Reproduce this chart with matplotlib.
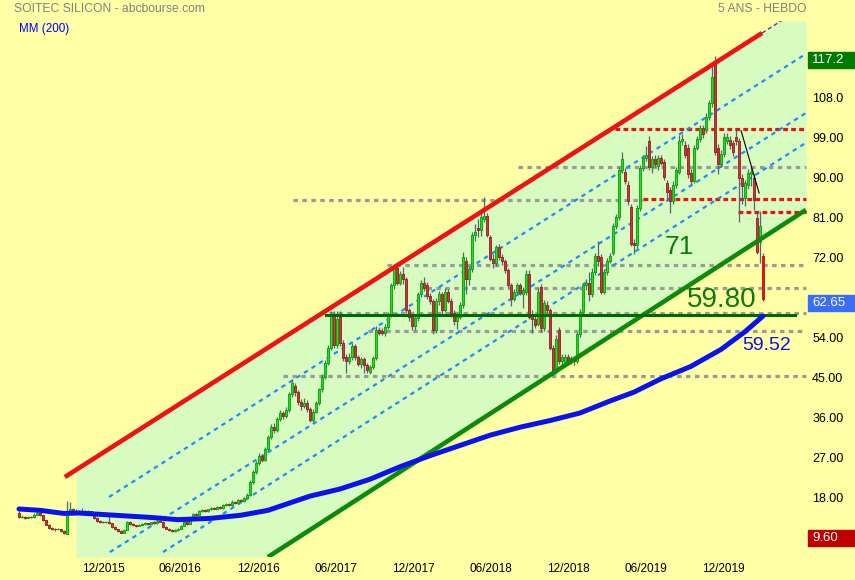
import numpy as np
import matplotlib
matplotlib.use("Agg")
import matplotlib.pyplot as plt
import matplotlib.transforms as mtransforms
from matplotlib.patches import Rectangle

plt.rcParams['font.family'] = ['Liberation Sans', 'DejaVu Sans']

# --- weekly candles (index 0 = mid 2015, last = mid March 2020) ---
opens = [
    14.4, 13.4, 13.6, 13.3, 13.5, 13.4, 14.0, 14.4, 13.9, 12.8,
    11.8, 11.0, 10.8, 10.7, 10.8, 10.4, 9.7, 14.4, 15.2, 14.6,
    14.9, 14.7, 14.9, 14.6, 14.8, 14.5, 13.3, 12.6, 12.4, 12.3,
    12.4, 12.1, 11.2, 10.8, 10.4, 10.0, 10.6, 12.4, 12.0, 11.7,
    11.5, 11.8, 11.9, 12.1, 11.9, 12.3, 12.1, 12.7, 12.4, 11.3,
    10.9, 10.6, 10.3, 10.5, 10.9, 11.5, 12.3, 12.0, 13.4, 14.2,
    14.0, 14.8, 15.1, 14.8, 15.2, 15.5, 15.4, 15.8, 15.6, 16.1,
    16.5, 16.2, 16.9, 16.6, 17.3, 17.0, 17.7, 18.5, 21.3, 23.6,
    25.6, 27.2, 26.3, 28.8, 31.5, 33.8, 33.0, 35.6, 37.0, 36.2,
    37.6, 41.2, 43.0, 41.6, 39.4, 38.4, 39.2, 37.8, 35.4, 37.2,
    39.2, 42.2, 45.0, 48.2, 51.6, 59.0, 52.2, 58.5, 52.6, 49.6,
    48.6, 49.6, 52.0, 49.4, 48.0, 49.0, 47.6, 46.2, 47.2, 49.2,
    55.6, 55.4, 55.0, 56.2, 59.0, 65.6, 69.6, 66.2, 68.2, 67.0,
    60.0, 58.4, 56.4, 58.2, 63.6, 66.2, 65.8, 63.2, 62.0, 55.6,
    62.0, 63.6, 60.0, 64.2, 62.2, 59.4, 57.6, 58.6, 61.2, 71.0,
    67.0, 69.2, 77.0, 78.6, 78.0, 80.6, 81.2, 76.4, 71.6, 70.6,
    74.2, 72.0, 71.0, 69.0, 65.6, 62.6, 64.2, 65.6, 63.6, 64.2,
    68.2, 59.2, 58.0, 57.0, 65.2, 56.0, 61.2, 60.0, 51.6, 46.2,
    55.6, 48.6, 48.2, 49.6, 48.6, 49.2, 48.6, 54.6, 59.6, 65.6,
    66.2, 63.6, 68.6, 72.2, 72.0, 64.2, 68.6, 71.2, 73.0, 79.0,
    81.0, 91.6, 91.2, 88.2, 83.2, 75.2, 74.6, 83.0, 92.0, 94.2,
    98.2, 92.2, 94.0, 92.4, 94.2, 93.4, 88.6, 87.0, 84.6, 88.2,
    91.2, 98.0, 97.2, 96.6, 91.0, 89.2, 96.6, 98.6, 101.0, 100.6,
    103.6, 106.6, 116.0, 96.6, 93.0, 95.2, 98.2, 98.4, 97.6, 99.0,
    98.0, 89.8, 85.2, 88.2, 90.6, 89.8, 80.8, 75.4, 72.2,
]
closes = [
    13.4, 13.6, 13.3, 13.5, 13.4, 14.0, 14.4, 13.9, 12.8, 11.8,
    11.0, 10.8, 10.7, 10.8, 10.4, 9.8, 14.4, 15.2, 14.6, 14.9,
    14.7, 14.9, 14.6, 14.8, 14.5, 13.3, 12.6, 12.4, 12.3, 12.4,
    12.1, 11.2, 10.8, 10.4, 10.0, 10.6, 12.4, 12.0, 11.7, 11.5,
    11.8, 11.9, 12.1, 11.9, 12.3, 12.1, 12.7, 12.4, 11.3, 10.9,
    10.6, 10.3, 10.5, 10.9, 11.5, 12.3, 12.0, 13.4, 14.2, 14.0,
    14.8, 15.1, 14.8, 15.2, 15.5, 15.4, 15.8, 15.6, 16.1, 16.5,
    16.2, 16.9, 16.6, 17.3, 17.0, 17.7, 18.5, 21.3, 23.6, 25.6,
    27.2, 26.3, 28.8, 31.5, 33.8, 33.0, 35.6, 37.0, 36.2, 37.6,
    41.2, 43.6, 41.6, 39.4, 38.4, 39.2, 37.8, 35.4, 37.2, 39.2,
    42.2, 45.0, 48.2, 51.6, 59.0, 52.2, 58.0, 52.6, 49.2, 48.6,
    49.6, 52.0, 49.6, 48.0, 49.0, 47.6, 46.6, 47.2, 49.2, 55.6,
    55.0, 55.0, 56.2, 59.0, 65.6, 69.6, 66.2, 68.2, 67.0, 60.0,
    58.4, 56.4, 58.2, 63.6, 66.2, 65.0, 63.2, 62.0, 55.6, 62.0,
    63.6, 60.0, 64.2, 62.2, 59.4, 57.6, 58.6, 61.2, 72.0, 67.0,
    69.2, 77.0, 77.6, 78.0, 81.0, 81.2, 77.0, 71.6, 70.6, 74.2,
    72.0, 71.0, 69.0, 65.6, 62.6, 64.2, 65.6, 64.0, 64.6, 68.2,
    58.6, 58.0, 56.6, 64.2, 56.0, 61.6, 60.0, 51.6, 46.2, 53.6,
    48.6, 49.6, 49.6, 48.6, 49.2, 48.6, 54.6, 59.6, 65.6, 66.2,
    63.6, 68.6, 72.2, 71.0, 64.2, 68.6, 71.2, 72.2, 79.0, 81.0,
    91.6, 94.0, 89.0, 84.6, 75.0, 74.6, 83.0, 92.0, 94.2, 95.0,
    92.2, 94.0, 93.0, 94.2, 93.2, 90.0, 86.6, 84.6, 88.2, 91.6,
    98.2, 98.6, 95.0, 90.6, 89.2, 96.6, 98.6, 101.0, 99.6, 103.6,
    106.6, 112.6, 95.6, 93.0, 95.2, 99.0, 99.0, 97.2, 95.6, 98.0,
    89.8, 88.0, 88.6, 91.0, 91.2, 84.8, 73.2, 79.0, 62.65,
]
highs = [
    14.8, 13.9, 13.8, 13.8, 13.7, 14.3, 14.8, 14.6, 14.0, 12.9,
    11.9, 11.2, 11.0, 11.0, 10.9, 10.5, 17.0, 16.8, 15.6, 15.2,
    15.0, 15.5, 15.0, 15.0, 14.9, 14.6, 13.5, 12.8, 12.6, 12.6,
    13.8, 12.2, 11.4, 10.9, 10.6, 10.8, 12.7, 12.6, 12.1, 11.8,
    11.9, 12.1, 12.3, 12.2, 12.4, 12.5, 13.4, 12.9, 12.5, 11.4,
    11.1, 10.7, 10.7, 11.1, 11.7, 12.5, 12.5, 13.6, 14.4, 14.5,
    15.0, 15.3, 15.3, 15.4, 15.8, 15.7, 16.0, 16.0, 16.4, 16.7,
    16.7, 17.3, 17.1, 17.5, 17.6, 17.9, 18.8, 21.8, 24.0, 26.0,
    27.8, 27.6, 29.2, 31.9, 34.4, 34.6, 36.0, 37.6, 37.4, 38.2,
    41.6, 44.6, 43.6, 42.0, 40.0, 40.2, 39.8, 38.2, 37.8, 39.6,
    42.6, 45.6, 48.8, 52.2, 59.8, 59.8, 59.8, 59.8, 53.4, 50.2,
    50.4, 52.6, 52.4, 50.0, 49.6, 49.6, 48.2, 47.8, 49.8, 56.4,
    56.2, 56.0, 57.0, 59.6, 66.2, 70.4, 70.2, 68.8, 69.8, 67.6,
    60.6, 59.0, 58.8, 64.2, 66.8, 67.6, 66.4, 63.8, 62.6, 62.8,
    64.4, 64.2, 65.0, 64.8, 62.8, 60.0, 59.4, 61.8, 73.2, 72.0,
    69.8, 77.6, 79.4, 80.6, 81.8, 85.5, 82.0, 77.0, 72.6, 74.8,
    75.0, 72.6, 71.6, 69.6, 66.2, 64.8, 66.2, 66.2, 65.2, 69.0,
    69.0, 60.0, 59.0, 65.0, 66.0, 62.4, 62.0, 60.6, 52.2, 54.4,
    56.2, 50.2, 50.2, 50.2, 49.8, 49.8, 55.2, 60.2, 66.2, 67.0,
    68.6, 69.6, 72.8, 75.6, 72.6, 69.2, 71.8, 73.0, 79.6, 81.6,
    92.2, 95.6, 92.0, 89.0, 84.0, 76.0, 83.6, 92.6, 95.0, 97.0,
    99.2, 94.8, 95.0, 95.0, 95.0, 94.0, 89.4, 87.8, 89.0, 92.2,
    99.4, 99.6, 98.2, 97.4, 91.8, 97.2, 99.2, 101.8, 101.8, 104.4,
    107.4, 115.0, 117.2, 97.4, 96.0, 99.8, 99.8, 99.2, 98.4, 100.6,
    98.8, 90.6, 89.4, 91.8, 92.0, 90.6, 82.2, 82.4, 73.0,
]
lows = [
    13.2, 13.2, 13.1, 13.2, 13.2, 13.3, 13.9, 13.7, 12.6, 11.6,
    10.8, 10.5, 10.4, 10.5, 10.2, 9.6, 9.6, 14.2, 14.4, 14.4,
    14.5, 14.6, 14.4, 14.5, 14.2, 13.1, 12.4, 12.2, 12.1, 12.1,
    11.9, 11.0, 10.6, 10.2, 9.8, 9.9, 10.5, 11.8, 11.5, 11.3,
    11.4, 11.6, 11.8, 11.7, 11.8, 12.0, 12.0, 12.3, 11.1, 10.7,
    10.4, 10.1, 10.2, 10.4, 10.8, 11.4, 11.8, 11.9, 13.2, 13.8,
    13.9, 14.6, 14.6, 14.6, 15.0, 15.2, 15.2, 15.4, 15.4, 15.9,
    16.0, 16.0, 16.4, 16.4, 16.8, 16.8, 17.5, 18.3, 21.0, 23.2,
    25.2, 25.8, 26.0, 28.4, 31.0, 32.4, 32.6, 35.2, 35.6, 35.8,
    37.2, 40.6, 40.8, 38.8, 37.6, 38.0, 37.2, 34.8, 34.8, 36.8,
    38.8, 41.6, 44.6, 47.8, 51.0, 51.6, 51.6, 52.0, 48.6, 46.0,
    48.0, 48.8, 48.8, 47.4, 47.0, 46.0, 45.8, 45.6, 46.8, 48.8,
    54.4, 54.4, 54.2, 55.8, 58.6, 64.8, 65.6, 65.6, 66.0, 59.4,
    57.6, 55.6, 55.6, 57.6, 63.0, 64.4, 62.6, 61.4, 54.6, 55.0,
    61.2, 59.2, 59.6, 61.6, 58.6, 56.6, 55.8, 58.0, 60.6, 63.6,
    65.6, 68.6, 75.6, 76.4, 76.8, 79.8, 76.4, 71.0, 69.6, 70.0,
    71.4, 70.2, 68.4, 65.0, 61.0, 62.0, 63.6, 63.4, 60.6, 63.4,
    58.0, 55.0, 56.0, 56.4, 55.2, 55.4, 59.4, 51.0, 45.5, 45.6,
    48.0, 47.8, 47.6, 47.8, 48.0, 47.8, 48.2, 54.0, 59.0, 64.6,
    62.2, 63.0, 68.0, 70.0, 63.6, 63.6, 68.0, 70.6, 72.4, 78.4,
    80.4, 91.0, 88.4, 83.8, 74.4, 72.6, 74.0, 82.4, 91.4, 93.6,
    91.6, 91.0, 92.2, 91.6, 92.6, 89.4, 84.8, 81.8, 84.0, 87.6,
    90.6, 97.2, 94.2, 89.8, 88.2, 88.6, 96.0, 97.8, 98.8, 99.8,
    102.8, 105.8, 95.0, 90.6, 92.2, 94.4, 97.4, 96.4, 94.8, 97.2,
    79.8, 84.0, 83.4, 87.4, 88.0, 82.6, 72.6, 70.6, 62.0,
]

# 200-week moving average, read at a number of weeks
ma_weeks = [0, 7, 15, 20, 27, 44, 53, 64, 74, 83, 90, 97, 107, 117, 127, 137,
            147, 157, 167, 177, 187, 197, 205, 214, 224, 234, 242, 248]
ma_values = [15.3, 15.0, 14.3, 14.4, 14.1, 13.4, 12.9, 13.2, 13.9, 15.0, 16.6,
             18.2, 19.8, 22.0, 24.8, 27.3, 29.6, 31.9, 33.7, 35.2, 36.9, 39.6,
             41.6, 44.6, 47.4, 51.2, 55.2, 58.7]

# channel lines (week, price) end points
upper_line = [(15.3, 22.5), (247.7, 122.4)]
lower_line = [(83.0, 4.5), (262.3, 82.6)]
mid_lines = [
    [(30.0, 18.0), (262.3, 117.7)],
    [(30.3, 5.6), (262.3, 104.4)],
    [(48.0, 5.6), (262.3, 97.7)],
]
short_trend = [(240.7, 100.4), (246.7, 86.4)]

# horizontal levels: (price, start week, end week)
gray_levels = [(92.2, 166.3, 262.3), (84.8, 91.3, 208.0), (70.2, 122.7, 262.3),
               (65.0, 136.0, 262.3), (59.3, 100.3, 262.3), (55.3, 116.3, 262.3),
               (45.2, 88.0, 262.3)]
red_levels = [(100.8, 198.7, 262.3), (85.1, 208.0, 262.3), (82.1, 239.7, 262.3)]
support_level = (59.0, 102.3, 258.7)

date_labels = ["12/2015", "06/2016", "12/2016", "06/2017", "12/2017",
               "06/2018", "12/2018", "06/2019", "12/2019"]
date_weeks = [28.0, 53.8, 79.7, 105.6, 131.4, 157.3, 183.0, 209.0, 234.7]
price_ticks = [18, 27, 36, 45, 54, 72, 81, 90, 99, 108]

BG = "#FFFFA6"
FILL = "#D8FCC0"
GREEN = "#22DD22"
RED = "#C43A3A"

fig = plt.figure(figsize=(8.55, 5.8), dpi=100, facecolor=BG)
ax = fig.add_axes([0, 23 / 580, 808 / 855, 536 / 580])
ax.set_facecolor(BG)
ymin, ymax = 4.5, 125.1
ax.set_xlim(-6.33, 263)
ax.set_ylim(ymin, ymax)
for s in ax.spines.values():
    s.set_visible(False)


def line_at(seg, x):
    (x0, y0), (x1, y1) = seg
    return y0 + (y1 - y0) * (np.asarray(x) - x0) / (x1 - x0)


# channel background
xs = np.linspace(19, 262.4, 800)
ax.fill_between(xs, np.maximum(line_at(lower_line, xs), ymin),
                np.minimum(line_at(upper_line, xs), ymax),
                color=FILL, lw=0, zorder=0)

for p, a, b in gray_levels:
    ax.plot([a, b], [p, p], color="#9A9A9A", lw=2.3, ls=(0, (1.4, 1.4)),
            solid_capstyle="butt", zorder=1)
for p, a, b in red_levels:
    ax.plot([a, b], [p, p], color="#EE1111", lw=2.3, ls=(0, (1.5, 1.0)), zorder=1)
for seg in mid_lines:
    (x0, y0), (x1, y1) = seg
    ax.plot([x0, x1], [y0, y1], color="#1E8CFF", lw=1.6, ls=(0, (2, 2)), zorder=1)

# candles
idx = np.arange(len(closes))
o = np.array(opens)
c = np.array(closes)
up = c >= o
ax.vlines(idx, lows, highs, color="#4E6676", lw=0.9, zorder=3)
ax.bar(idx[up], np.maximum(c - o, 0.15)[up], bottom=o[up], width=0.8,
       color=GREEN, edgecolor="#16A816", lw=0.5, antialiased=False, zorder=4)
ax.bar(idx[~up], (o - c)[~up], bottom=c[~up], width=0.8,
       color=RED, edgecolor="#A02C2C", lw=0.5, antialiased=False, zorder=4)
ax.bar(idx[-1], o[-1] - c[-1], bottom=c[-1], width=0.8, color="#EE1111",
       lw=0, antialiased=False, zorder=5)

# channel limits
(x0, y0), (x1, y1) = upper_line
ax.plot([x0, x1], [y0, y1], color="#F01212", lw=3.3, solid_capstyle="butt", zorder=6)
ext = np.array([x1, 258.0])
ax.plot(ext, line_at(upper_line, ext), color="#3D3DB0", lw=1.0, ls=(0, (3, 2)), zorder=6)
(x0, y0), (x1, y1) = lower_line
ax.plot([x0, x1], [y0, y1], color="#0C8A0C", lw=3.3, solid_capstyle="butt", zorder=6)
p, a, b = support_level
ax.plot([a, b], [p, p], color="#006A00", lw=2.2, zorder=6)
(x0, y0), (x1, y1) = short_trend
ax.plot([x0, x1], [y0, y1], color="black", lw=0.8, zorder=6)

# moving average
ax.plot(ma_weeks, ma_values, color="#0A12EE", lw=3.6, solid_capstyle="round",
        solid_joinstyle="round", zorder=7)

ax.text(220, 74.3, "71", color="#0A7A0A", fontsize=19, ha="center", va="center", zorder=8)
ax.text(234.3, 62.3, "59.80", color="#0A7A0A", fontsize=20, ha="center", va="center", zorder=8)
ax.text(249.3, 52.2, "59.52", color="#1010EE", fontsize=14, ha="center", va="center", zorder=8)

# axes labels
ax.yaxis.tick_right()
ax.set_yticks(price_ticks)
ax.set_yticklabels(["%.1f" % v if v >= 100 else "%.2f" % v for v in price_ticks])
ax.tick_params(axis="y", length=0, pad=3, labelsize=9)
ax.set_xticks(date_weeks)
ax.set_xticklabels(date_labels)
ax.tick_params(axis="x", length=0, pad=4, labelsize=8.5)

# boxed values on the right
trans = mtransforms.blended_transform_factory(ax.transAxes, ax.transData)
for val, txt, col in [(117.2, "117.2", "#007A00"), (closes[-1], "62.65", "#3B6EF8"),
                      (9.6, "9.60", "#C00000")]:
    yc = val - 0.9
    ax.add_patch(Rectangle((1.0, yc - 1.8), 47 / 808, 3.6, transform=trans,
                           color=col, clip_on=False, zorder=10))
    ax.text(1.0 + 4 / 808, yc, txt, transform=trans, color="white", fontsize=9.5,
            ha="left", va="center", clip_on=False, zorder=11)

fig.text(14 / 855, 1 - 9 / 580, "SOITEC SILICON - abcbourse.com", color="#808080",
         fontsize=8.7, ha="left", va="center")
fig.text(806 / 855, 1 - 9 / 580, "5 ANS - HEBDO", color="#808080",
         fontsize=8.7, ha="right", va="center")
fig.text(19 / 855, 1 - 29 / 580, "MM (200)", color="#0000FF",
         fontsize=8.4, ha="left", va="center")

fig.savefig("out.png", dpi=100, facecolor=BG)
